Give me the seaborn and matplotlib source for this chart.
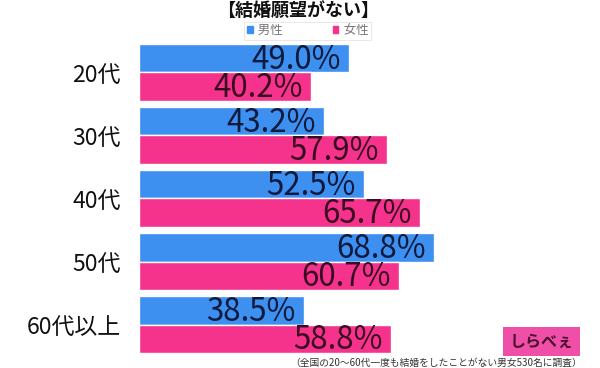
import matplotlib
matplotlib.use("Agg")
import matplotlib.pyplot as plt
import seaborn as sns
import pandas as pd
from matplotlib.patches import Rectangle

## DATA
ages = ["20代", "30代", "40代", "50代", "60代以上"]
male = [49.0, 43.2, 52.5, 68.8, 38.5]
female = [40.2, 57.9, 65.7, 60.7, 58.8]
genders = ["男性", "女性"]

df = pd.DataFrame({
    "age": ages * 2,
    "gender": [genders[0]] * len(ages) + [genders[1]] * len(ages),
    "value": male + female,
})

blue = "#3d8ff0"
pink = "#f5338c"
text_cols = ["#0f1a3c", "#3a0b20"]

sns.set_theme(style="white")
plt.rcParams["font.family"] = ["Noto Sans CJK JP", "DejaVu Sans"]

fig = plt.figure(figsize=(6, 3.68), dpi=100)
ax = fig.add_axes([0.2317, 0.0326, 0.714, 0.856])

sns.barplot(data=df, y="age", x="value", hue="gender", palette=[blue, pink],
            width=0.9, orient="h", saturation=1, ax=ax, legend=False)

# value labels inside the bar ends
for cont, col in zip(ax.containers, text_cols):
    for patch, v in zip(cont.patches, cont.datavalues):
        ax.annotate(f"{v:.1f}%", xy=(patch.get_width(), patch.get_y() + patch.get_height() / 2),
                    xytext=(-6, -1), textcoords="offset points", ha="right", va="center",
                    fontsize=22.5, color=col)

ax.set_xlim(0, 100)
ax.set_ylim(4.5, -0.5)
ax.set_xlabel("")
ax.set_ylabel("")
ax.set_xticks([])
ax.tick_params(axis="y", length=0, pad=13, labelsize=16.5, labelcolor="#111111")
for s in ax.spines.values():
    s.set_visible(False)

# title + legend
fig.text(0.497, 0.998, "【結婚願望がない】", ha="center", va="top", fontsize=13,
         fontweight="bold", color="#111111")
handles = [Rectangle((0, 0), 1, 1, color=blue), Rectangle((0, 0), 1, 1, color=pink)]
leg = fig.legend(handles, [" " + g for g in genders], loc="center", bbox_to_anchor=(0.513, 0.917),
                 ncol=2, fontsize=9, frameon=True, fancybox=False, handlelength=0.45,
                 handleheight=0.45, handletextpad=0.2, columnspacing=4.0, borderpad=0.2,
                 borderaxespad=0, labelcolor="#777777")
leg.get_frame().set_edgecolor("#dddddd")
leg.get_frame().set_linewidth(0.6)

# logo + source note
fig.text(0.902, 0.072, "しらべぇ", ha="center", va="center", fontsize=11.5, color="#4a1030",
         fontweight="bold",
         bbox=dict(boxstyle="square,pad=0.4", facecolor="#f04fa8", edgecolor="none"))
fig.text(0.97, 0.0, "（全国の20〜60代一度も結婚をしたことがない男女530名に調査）",
         ha="right", va="bottom", fontsize=7, color="#333333")

fig.savefig("out.png", dpi=100)
